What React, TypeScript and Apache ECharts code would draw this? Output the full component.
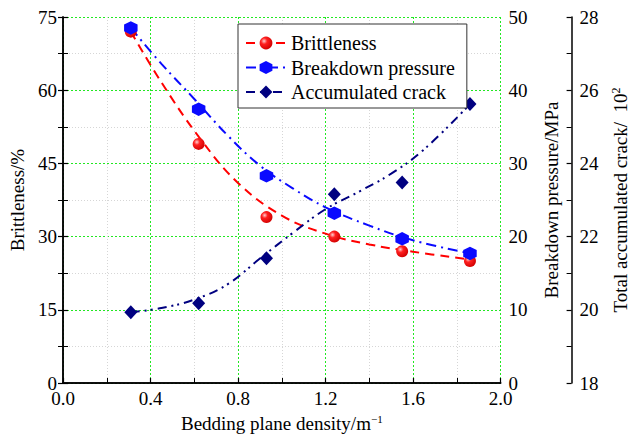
import React, { useEffect, useRef } from "react";
import * as echarts from "echarts";

// Measured points (x = bedding plane density, m^-1)
const densities = [0.31, 0.62, 0.93, 1.24, 1.55, 1.86];
const brittleness = [72, 49, 34, 30, 27, 25];
const breakdownPressure = [48.5, 37.4, 28.3, 23.2, 19.7, 17.7];
const accumulatedCrack = [19.93, 20.18, 21.41, 23.16, 23.48, 25.62];

// Fitted curves
const brittleFitX = [0.31, 0.45, 0.62, 0.8, 1.0, 1.2, 1.4, 1.6, 1.86];
const brittleFitY = [72, 61.6, 50.5, 41, 34.3, 30.6, 28.4, 26.9, 25.3];
const pressureFitX = [0.31, 0.45, 0.6, 0.75, 0.9, 1.05, 1.2, 1.4, 1.6, 1.86];
const pressureFitY = [48.5, 43.6, 38.8, 33.9, 29.7, 26.6, 24.0, 21.5, 19.5, 17.7];
const crackFitX = [0.31, 0.45, 0.6, 0.75, 0.9, 1.05, 1.2, 1.35, 1.5, 1.65, 1.86];
const crackFitY = [19.93, 20.05, 20.28, 20.69, 21.4, 22.1, 22.75, 23.22, 23.72, 24.38, 25.62];

const seriesNames = ["Brittleness", "Breakdown pressure", "Accumulated crack"];

const FONT = "Liberation Serif";
const GREEN = "#22e822";
const MINOR = "#d6d6d6";
const HEX = "path://M0,-1 L0.866,-0.5 L0.866,0.5 L0,1 L-0.866,0.5 L-0.866,-0.5 Z";

const zip = (xs: number[], ys: number[]) => xs.map((x, i) => [x, ys[i]]);

export default function App() {
  const ref = useRef<HTMLDivElement>(null);
  useEffect(() => {
    const chart = echarts.init(ref.current!, undefined, { renderer: "svg" });
    const redFill = new echarts.graphic.RadialGradient(0.35, 0.35, 0.7, [
      { offset: 0, color: "#ffd0d0" },
      { offset: 0.35, color: "#ff2020" },
      { offset: 1, color: "#d00000" },
    ]);
    const axisText = { fontFamily: FONT, fontSize: 19, color: "#000" };
    const axisLine = { show: true, lineStyle: { color: "#000", width: 1.5 } };
    const tick = { show: true, inside: true, length: 5, lineStyle: { color: "#000", width: 1.2 } };
    const minorTick = { show: true, splitNumber: 2, length: 5, lineStyle: { color: "#000", width: 1 } };
    const option: any = {
      animation: false,
      grid: { left: 63, right: 124, top: 17, bottom: 58, containLabel: false },
      legend: {
        data: seriesNames,
        orient: "vertical",
        left: 238,
        top: 24,
        backgroundColor: "#fff",
        borderColor: "#333",
        borderWidth: 1,
        padding: [9, 12, 6, 7],
        itemWidth: 40,
        itemHeight: 16,
        itemGap: 4.5,
        textStyle: { fontFamily: FONT, fontSize: 20, color: "#000" },
        z: 10,
      },
      xAxis: [
        {
          type: "value",
          min: 0,
          max: 2,
          interval: 0.4,
          name: "Bedding plane density/m{sup|−1}",
          nameLocation: "middle",
          nameGap: 30,
          nameTextStyle: { ...axisText, rich: { sup: { fontFamily: FONT, fontSize: 11, color: "#000", verticalAlign: "top", padding: [0, 0, 10, 0] } } },
          axisLine,
          axisTick: tick,
          minorTick,
          axisLabel: { ...axisText, margin: 6, formatter: (v: number) => v.toFixed(1) },
          splitLine: { show: true, lineStyle: { color: GREEN, type: [2, 2], width: 1 } },
          minorSplitLine: { show: true, lineStyle: { color: MINOR, type: [1, 2], width: 1 } },
        },
        {
          type: "value",
          position: "top",
          min: 0,
          max: 2,
          axisLine,
          axisTick: { show: false },
          axisLabel: { show: false },
          splitLine: { show: false },
        },
      ],
      yAxis: [
        {
          type: "value",
          min: 0,
          max: 75,
          interval: 15,
          position: "left",
          name: "Brittleness/%",
          nameLocation: "middle",
          nameGap: 36,
          nameTextStyle: axisText,
          axisLine,
          axisTick: tick,
          minorTick,
          axisLabel: { ...axisText, margin: 6 },
          splitLine: { show: true, lineStyle: { color: GREEN, type: [2, 2], width: 1 } },
          minorSplitLine: { show: true, lineStyle: { color: MINOR, type: [1, 2], width: 1 } },
        },
        {
          type: "value",
          min: 0,
          max: 50,
          interval: 10,
          position: "right",
          name: "Breakdown pressure/MPa",
          nameLocation: "middle",
          nameGap: 41,
          nameTextStyle: axisText,
          axisLine,
          axisTick: tick,
          minorTick,
          axisLabel: { ...axisText, margin: 8 },
          splitLine: { show: false },
        },
        {
          type: "value",
          min: 18,
          max: 28,
          interval: 2,
          position: "right",
          offset: 71,
          name: "Total accumulated crack/  10{sup|2}",
          nameLocation: "middle",
          nameGap: 33,
          nameTextStyle: { ...axisText, rich: { sup: { fontFamily: FONT, fontSize: 12, color: "#000", verticalAlign: "top", padding: [0, 0, 10, 0] } } },
          axisLine,
          axisTick: tick,
          minorTick,
          axisLabel: { ...axisText, margin: 8 },
          splitLine: { show: false },
        },
      ],
      series: [
        {
          name: seriesNames[0],
          type: "line",
          yAxisIndex: 0,
          data: zip(brittleFitX, brittleFitY),
          smooth: 0.4,
          showSymbol: false,
          symbol: "circle",
          itemStyle: { color: redFill },
          lineStyle: { color: "#ff0000", width: 2, type: [9, 6] },
          z: 3,
        },
        {
          name: seriesNames[1],
          type: "line",
          yAxisIndex: 1,
          data: zip(pressureFitX, pressureFitY),
          smooth: 0.4,
          showSymbol: false,
          symbol: HEX,
          itemStyle: { color: "#0a0aff" },
          lineStyle: { color: "#0a0aff", width: 2, type: [10, 5, 2, 5] },
          z: 3,
        },
        {
          name: seriesNames[2],
          type: "line",
          yAxisIndex: 2,
          data: zip(crackFitX, crackFitY),
          smooth: 0.4,
          showSymbol: false,
          symbol: "diamond",
          itemStyle: { color: "#000080" },
          lineStyle: { color: "#000080", width: 2, type: [9, 5, 2, 4, 2, 5] },
          z: 3,
        },
        {
          name: "Brittleness points",
          type: "scatter",
          yAxisIndex: 0,
          data: zip(densities, brittleness),
          symbol: "circle",
          symbolSize: 12,
          itemStyle: { color: redFill, opacity: 1 },
          z: 4,
        },
        {
          name: "Breakdown pressure points",
          type: "scatter",
          yAxisIndex: 1,
          data: zip(densities, breakdownPressure),
          symbol: HEX,
          symbolSize: 13.5,
          itemStyle: { color: "#0a0aff", opacity: 1 },
          z: 4,
        },
        {
          name: "Accumulated crack points",
          type: "scatter",
          yAxisIndex: 2,
          data: zip(densities, accumulatedCrack),
          symbol: "diamond",
          symbolSize: [13, 14],
          itemStyle: { color: "#000080", opacity: 1 },
          z: 4,
        },
      ],
    };
    chart.setOption(option);
    return () => chart.dispose();
  }, []);
  return (
    <div
      ref={ref}
      style={{ position: "absolute", left: 0, top: 0, width: 638, height: 441, background: "#fff" }}
    />
  );
}
